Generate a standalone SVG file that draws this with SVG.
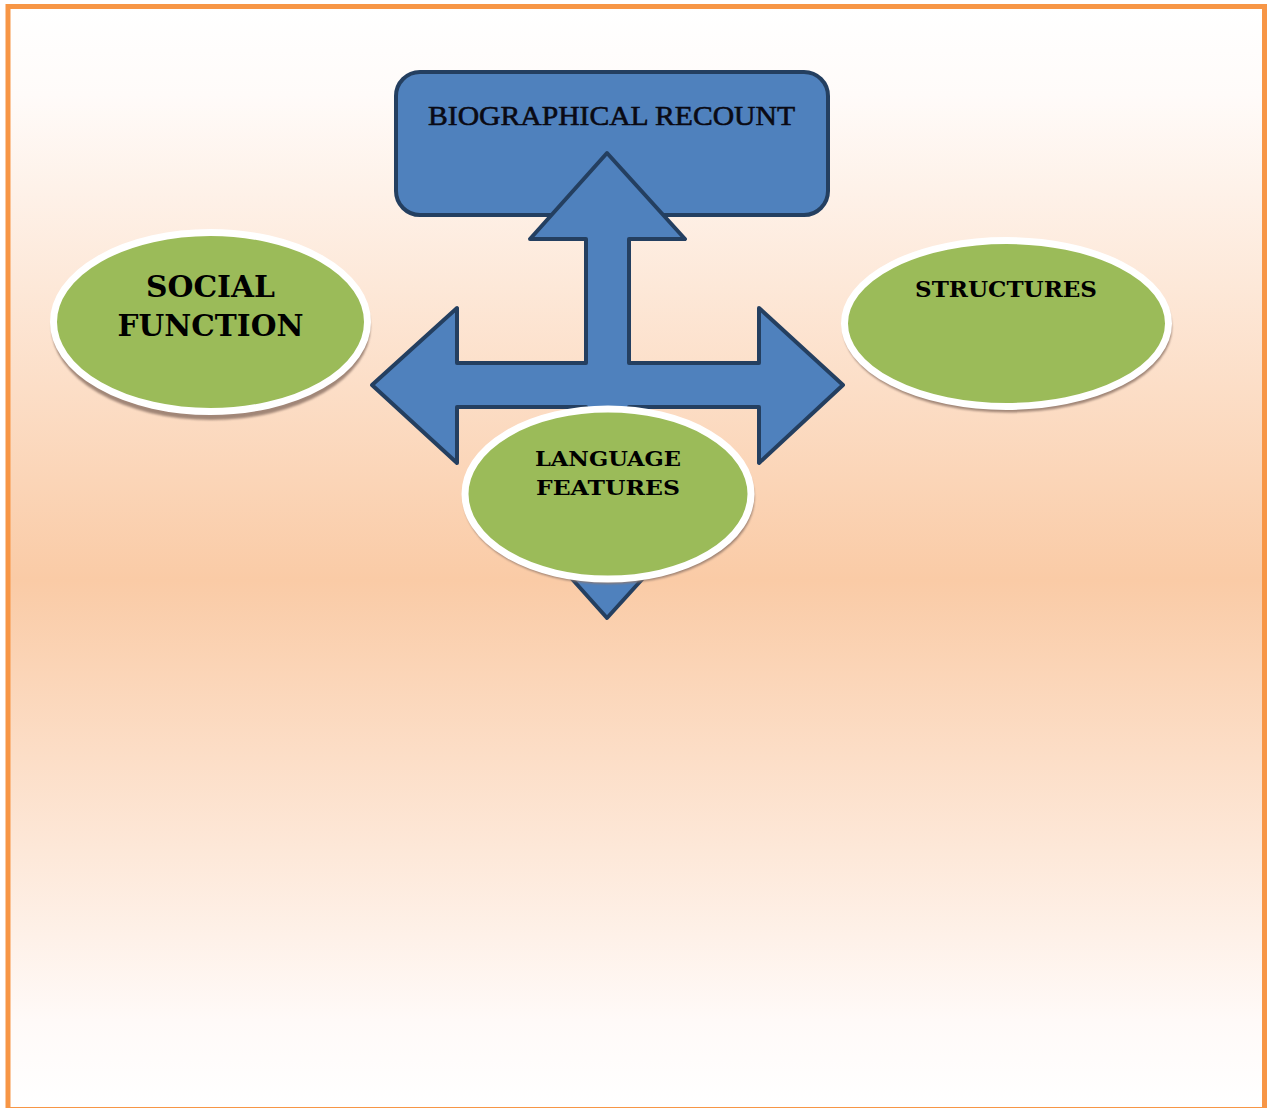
<svg xmlns="http://www.w3.org/2000/svg" width="1276" height="1108" viewBox="0 0 1276 1108">
<defs>
<linearGradient id="bg" x1="0" y1="0" x2="0" y2="1">
<stop offset="0" stop-color="#FFFFFF"/>
<stop offset="0.08" stop-color="#FFFBF9"/>
<stop offset="0.52" stop-color="#FACBA6"/>
<stop offset="0.92" stop-color="#FFFAF8"/>
<stop offset="1" stop-color="#FFFFFF"/>
</linearGradient>
<filter id="sh" x="-10%" y="-10%" width="120%" height="130%">
<feGaussianBlur stdDeviation="1.2"/>
</filter>
<style>
.blue{fill:#4F81BD;stroke:#243F60;stroke-width:4;stroke-linejoin:round}
.oval{fill:#9BBB59;stroke:#FFFFFF;stroke-width:7}
.shadow{fill:#92786A;opacity:0.85;filter:url(#sh)}
.lbl{font-family:"DejaVu Serif","Liberation Serif",serif;font-weight:bold;fill:#000000;text-anchor:middle}
.title{font-family:"Liberation Serif","DejaVu Serif",serif;fill:#0A0A14;stroke:#0A0A14;stroke-width:0.6;text-anchor:middle}
</style>
</defs>
<rect x="8" y="6.5" width="1256.5" height="1103" fill="url(#bg)" stroke="#F79646" stroke-width="5"/>

<g id="node-title">
<rect class="blue" x="396" y="72" width="432" height="143" rx="24" ry="24"/>
<text class="title" x="611.5" y="125" font-size="28" textLength="367" lengthAdjust="spacingAndGlyphs">BIOGRAPHICAL RECOUNT</text>
</g>

<g id="connectors">
<path class="blue" d="M607,153 L685,239 L629,239 L629,363 L759,363 L759,308 L843,385 L759,463 L759,407 L629,407 L629,532 L685,532 L607,618 L530,532 L586,532 L586,407 L457,407 L457,463 L372,385 L457,308 L457,363 L586,363 L586,239 L530,239 Z"/>
</g>

<g id="node-social">
<ellipse class="shadow" cx="211" cy="327" rx="159.5" ry="93"/>
<ellipse class="oval" cx="210.5" cy="322" rx="157" ry="89.5"/>
<text class="lbl" x="210.5" y="297" font-size="30" textLength="129" lengthAdjust="spacingAndGlyphs">SOCIAL</text>
<text class="lbl" x="210.5" y="336" font-size="30" textLength="186" lengthAdjust="spacingAndGlyphs">FUNCTION</text>
</g>

<g id="node-structures">
<ellipse class="shadow" cx="1007.5" cy="327.5" rx="164.5" ry="85"/>
<ellipse class="oval" cx="1006.5" cy="323.5" rx="162" ry="83"/>
<text class="lbl" x="1006" y="297" font-size="22" textLength="182" lengthAdjust="spacingAndGlyphs">STRUCTURES</text>
</g>

<g id="node-language">
<ellipse class="shadow" cx="609" cy="498" rx="145.5" ry="86"/>
<ellipse class="oval" cx="608" cy="494" rx="143" ry="85"/>
<text class="lbl" x="608" y="466" font-size="21" textLength="146" lengthAdjust="spacingAndGlyphs">LANGUAGE</text>
<text class="lbl" x="608" y="495" font-size="21" textLength="144" lengthAdjust="spacingAndGlyphs">FEATURES</text>
</g>
</svg>
